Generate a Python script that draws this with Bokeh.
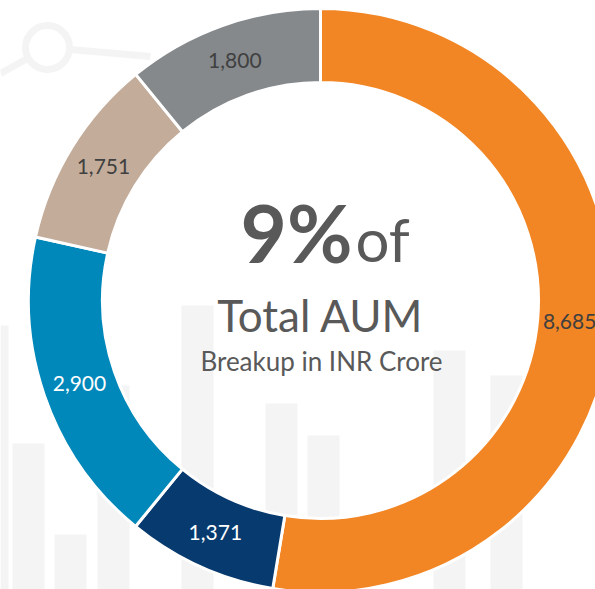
import numpy as np
from bokeh.plotting import figure
from bokeh.models import Range1d, ColumnDataSource
from bokeh.core.properties import value
from bokeh.embed import file_html
from bokeh.resources import INLINE

# ---- data ----
labels = ["8,685", "1,371", "2,900", "1,751", "1,800"]
values = [8685, 1371, 2900, 1751, 1800]
colors = ["#F28524", "#073A6E", "#0088BA", "#C3AC9A", "#85898C"]
label_colors = ["#404040", "#FFFFFF", "#FFFFFF", "#404040", "#404040"]

# decorative watermark bars (pixel positions, left x and top y)
bg_bar_left = [-24, 12, 54, 97, 181, 265, 307, 433, 490]
bg_bar_top = [325, 443, 534, 385, 305, 403, 435, 350, 375]
bg_line_x = [0, 47, 150]
bg_line_y = [73, 47, 56]

# ---- geometry (1 data unit = 1 px, origin at donut centre) ----
CX, CY = 320, 300
R_OUT, R_IN = 292, 218
W, H = 595, 589

def px(x):
    return x - CX

def py(y):
    return CY - y

p = figure(width=W, height=H, output_backend="svg", toolbar_location=None,
           x_range=Range1d(px(0), px(W)), y_range=Range1d(py(H), py(0)),
           min_border=0, outline_line_color=None)
p.axis.visible = False
p.grid.visible = False
p.background_fill_color = "white"
p.border_fill_color = "white"

# watermark
bx = [px(l + 16) for l in bg_bar_left]
btop = [py(t) for t in bg_bar_top]
bbot = [py(600)] * len(bx)
p.vbar(x=bx, width=32, top=btop, bottom=bbot, fill_color="#F4F4F4", line_color=None)
p.line([px(v) for v in bg_line_x], [py(v) for v in bg_line_y], line_color="#F4F4F4", line_width=7)
p.scatter([px(47)], [py(47)], size=44, marker="circle", fill_color="white",
          line_color="#F4F4F4", line_width=7)

# donut
vals = np.array(values, dtype=float)
frac = vals / vals.sum()
cum_end = np.cumsum(frac) * 2 * np.pi
cum_start = cum_end - frac * 2 * np.pi
start = np.pi / 2 - cum_start
end = np.pi / 2 - cum_end
mid = (start + end) / 2
r_mid = (R_OUT + R_IN) / 2

src = ColumnDataSource(dict(start=start, end=end, color=colors, label=labels,
                            lx=r_mid * np.cos(mid), ly=r_mid * np.sin(mid),
                            lc=label_colors, xo=[-5, 0, 0, 0, 0]))
p.annular_wedge(x=0, y=0, inner_radius=R_IN, outer_radius=R_OUT,
                start_angle="start", end_angle="end", direction="clock",
                fill_color="color", line_color="white", line_width=3, source=src)

p.text(x="lx", y="ly", text="label", text_color="lc", text_align="center",
       text_baseline="middle", text_font=value("Lato"), text_font_size="21px",
       x_offset="xo", source=src)

# centre texts
p.text(x=[px(352)], y=[py(231)], text=["9%"], text_align="right", text_baseline="middle",
       text_font=value("Lato"), text_font_style="bold", text_font_size="80px",
       text_color="#595959")
p.text(x=[px(355)], y=[py(238)], text=["of"], text_align="left", text_baseline="middle",
       text_font=value("Lato"), text_font_size="60px", text_color="#595959")
p.text(x=[px(320)], y=[py(314)], text=["Total AUM"], text_align="center", text_baseline="middle",
       text_font=value("Lato"), text_font_size="44px", text_color="#595959")
p.text(x=[px(321)], y=[py(360)], text=["Breakup in INR Crore"], text_align="center",
       text_baseline="middle", text_font=value("Lato"), text_font_size="26px",
       text_color="#595959")

open("out.html", "w").write(file_html(p, INLINE))
